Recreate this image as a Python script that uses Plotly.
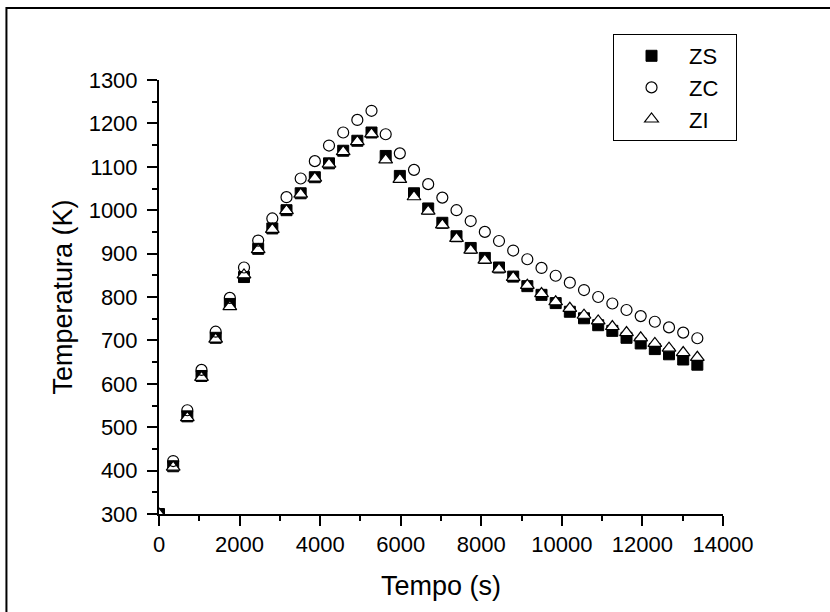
import plotly.graph_objects as go

tempo = [0, 352, 703, 1055, 1407, 1758, 2110, 2462, 2813, 3165, 3517, 3868, 4220,
         4572, 4923, 5275, 5627, 5978, 6330, 6682, 7033, 7385, 7737, 8088, 8440,
         8792, 9143, 9495, 9847, 10198, 10550, 10902, 11253, 11605, 11957, 12308,
         12660, 13012, 13363]

zs = [300, 410, 525, 618, 706, 784, 846, 911, 958, 1000, 1039, 1076, 1108,
      1137, 1160, 1179, 1125, 1079, 1039, 1004, 971, 940, 913, 890, 868,
      847, 825, 805, 786, 766, 751, 735, 722, 706, 693, 680,
      668, 656, 644]

zc = [300, 422, 539, 632, 720, 798, 868, 930, 981, 1030, 1073, 1113, 1149,
      1179, 1208, 1229, 1175, 1131, 1093, 1060, 1029, 1000, 975, 950, 929,
      907, 887, 867, 849, 833, 816, 800, 785, 770, 756, 743,
      730, 718, 705]

zi = [300, 408, 522, 615, 703, 778, 851, 909, 956, 999, 1037, 1074, 1106,
      1135, 1158, 1176, 1116, 1071, 1031, 998, 966, 935, 908, 885, 864,
      845, 827, 808, 789, 774, 758, 745, 732, 718, 706, 693,
      682, 672, 661]

x_ticks = [0, 2000, 4000, 6000, 8000, 10000, 12000, 14000]
y_ticks = [300, 400, 500, 600, 700, 800, 900, 1000, 1100, 1200, 1300]

FONT = "Arial, Liberation Sans, sans-serif"
PAD = "\u00a0" * 2

fig = go.Figure()
fig.add_trace(go.Scatter(
    x=tempo, y=zs, mode="markers", name="ZS" + PAD, legendrank=1,
    marker=dict(symbol="square", size=11, color="black",
                line=dict(color="black", width=1))))
fig.add_trace(go.Scatter(
    x=tempo, y=zi, mode="markers", name="ZI" + PAD, legendrank=3,
    marker=dict(symbol="triangle-up", size=12, color="white",
                line=dict(color="black", width=1.2))))
fig.add_trace(go.Scatter(
    x=tempo, y=zc, mode="markers", name="ZC" + PAD, legendrank=2,
    marker=dict(symbol="circle-open", size=11, color="black",
                line=dict(color="black", width=1.2))))

axis_common = dict(
    showgrid=False, zeroline=False, showline=True, linecolor="black",
    linewidth=2, ticks="outside", ticklen=10, tickwidth=2, tickcolor="black",
    tickfont=dict(family=FONT, size=22, color="black"), mirror=False,
)

fig.update_xaxes(
    range=[0, 14000], tickmode="array", tickvals=x_ticks,
    ticktext=[str(v) for v in x_ticks],
    minor=dict(dtick=1000, ticklen=5, tickwidth=2, tickcolor="black", ticks="outside"),
    title=dict(text="Tempo (s)", font=dict(family=FONT, size=27, color="black"),
               standoff=20),
    **axis_common)
fig.update_yaxes(
    range=[300, 1300], tickmode="array", tickvals=y_ticks,
    ticktext=[str(v) for v in y_ticks],
    ticklabelstandoff=5,
    minor=dict(dtick=50, ticklen=5, tickwidth=2, tickcolor="black", ticks="outside"),
    title=dict(text="Temperatura (K)", font=dict(family=FONT, size=27, color="black"),
               standoff=8),
    **axis_common)

fig.add_shape(type="rect", xref="paper", yref="paper",
              x0=-0.2705, x1=1.4, y0=-0.4, y1=1.1659,
              line=dict(color="black", width=2), fillcolor="rgba(0,0,0,0)",
              layer="below")

fig.update_layout(
    width=830, height=612,
    margin=dict(l=159, r=107, t=80, b=98),
    paper_bgcolor="white", plot_bgcolor="white",
    font=dict(family=FONT, color="black"),
    showlegend=True,
    legend=dict(x=0.805, y=1.106, xanchor="left", yanchor="top",
                bordercolor="black", borderwidth=1, bgcolor="white",
                font=dict(family=FONT, size=22, color="black"),
                itemwidth=65),
)

fig.write_html("out.html", config={"displayModeBar": False},
               post_script="document.body.style.margin='0';document.body.style.padding='0';")
